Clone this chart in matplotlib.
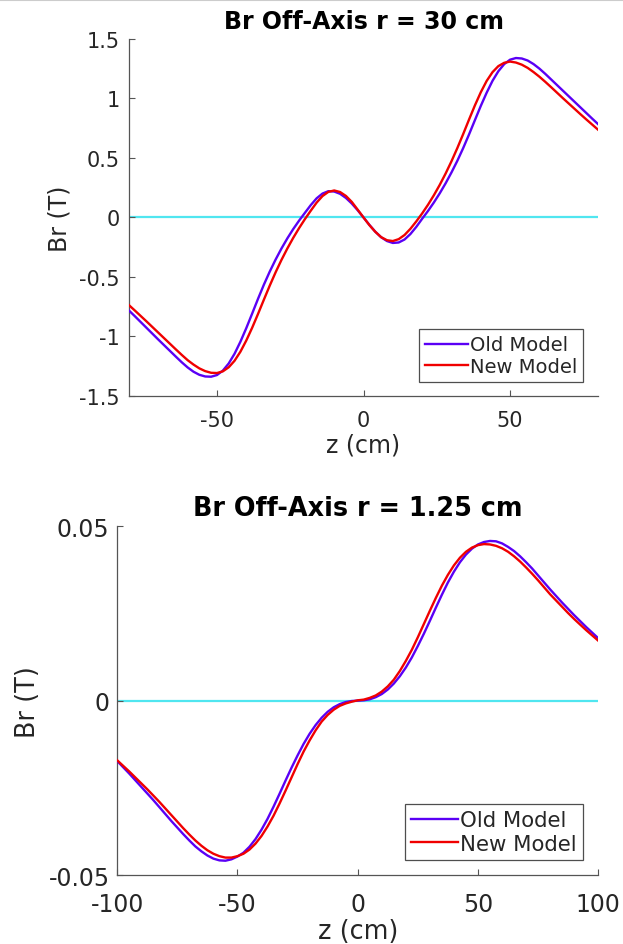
import matplotlib
matplotlib.use("Agg")
import matplotlib.pyplot as plt
from matplotlib.lines import Line2D

# Br off-axis, r = 30 cm  (z every 2 cm from -80 to 80)
z_30 = list(range(-80, 81, 2))
old_30 = [-0.782, -0.830, -0.879, -0.928, -0.977, -1.026, -1.074, -1.122, -1.170, -1.217,
          -1.260, -1.296, -1.322, -1.336, -1.338, -1.324, -1.287, -1.227, -1.145, -1.044,
          -0.930, -0.808, -0.684, -0.565, -0.455, -0.354, -0.261, -0.176, -0.098, -0.027,
          0.039, 0.104, 0.161, 0.201, 0.221, 0.218, 0.199, 0.164, 0.117, 0.061,
          0.0, -0.062, -0.119, -0.166, -0.198, -0.214, -0.210, -0.185, -0.139, -0.079,
          -0.011, 0.055, 0.126, 0.203, 0.287, 0.378, 0.476, 0.583, 0.698, 0.818,
          0.937, 1.048, 1.148, 1.229, 1.289, 1.326, 1.340, 1.336, 1.319, 1.289,
          1.251, 1.207, 1.160, 1.113, 1.066, 1.019, 0.972, 0.925, 0.878, 0.831, 0.785]
new_30 = [-0.737, -0.782, -0.828, -0.874, -0.921, -0.968, -1.015, -1.062, -1.109, -1.155,
          -1.199, -1.236, -1.268, -1.291, -1.305, -1.307, -1.293, -1.259, -1.204, -1.128,
          -1.034, -0.927, -0.811, -0.691, -0.573, -0.461, -0.357, -0.261, -0.172, -0.090,
          -0.014, 0.057, 0.125, 0.180, 0.215, 0.227, 0.214, 0.181, 0.131, 0.066,
          0.0, -0.064, -0.120, -0.165, -0.191, -0.198, -0.182, -0.147, -0.095, -0.033,
          0.034, 0.107, 0.187, 0.274, 0.369, 0.472, 0.583, 0.701, 0.823, 0.942,
          1.052, 1.147, 1.221, 1.272, 1.300, 1.310, 1.302, 1.284, 1.257, 1.222,
          1.183, 1.140, 1.095, 1.049, 1.003, 0.958, 0.913, 0.868, 0.824, 0.781, 0.738]

# Br off-axis, r = 1.25 cm  (z every 2.5 cm from -100 to 100)
z_125 = [-100 + 2.5 * i for i in range(81)]
old_125 = [-0.0173, -0.0191, -0.0209, -0.0228, -0.0247, -0.0266, -0.0285, -0.0305, -0.0325,
           -0.0345, -0.0364, -0.0383, -0.0401, -0.0418, -0.0432, -0.0444, -0.0453, -0.0458,
           -0.0459, -0.0455, -0.0447, -0.0436, -0.0419, -0.0397, -0.0370, -0.0339, -0.0304,
           -0.0267, -0.0229, -0.0192, -0.0157, -0.0124, -0.0095, -0.0070, -0.0049, -0.0032,
           -0.0019, -0.0010, -0.0004, -0.0001,
           0.0, 0.0001, 0.0004, 0.0010, 0.0019, 0.0032, 0.0049, 0.0070, 0.0095, 0.0124,
           0.0157, 0.0192, 0.0229, 0.0267, 0.0304, 0.0339, 0.0370, 0.0397, 0.0419, 0.0436,
           0.0448, 0.0455, 0.0458, 0.0457, 0.0451, 0.0441, 0.0429, 0.0414, 0.0397, 0.0379,
           0.0359, 0.0339, 0.0319, 0.0300, 0.0281, 0.0263, 0.0245, 0.0228, 0.0211, 0.0195,
           0.0179]
new_125 = [-0.0171, -0.0187, -0.0203, -0.0220, -0.0237, -0.0254, -0.0272, -0.0290, -0.0309,
           -0.0328, -0.0347, -0.0366, -0.0384, -0.0401, -0.0416, -0.0429, -0.0439, -0.0446,
           -0.0450, -0.0450, -0.0446, -0.0439, -0.0427, -0.0410, -0.0388, -0.0361, -0.0330,
           -0.0295, -0.0258, -0.0220, -0.0182, -0.0146, -0.0114, -0.0085, -0.0060, -0.0041,
           -0.0026, -0.0015, -0.0008, -0.0003,
           0.0001, 0.0003, 0.0008, 0.0015, 0.0026, 0.0041, 0.0060, 0.0085, 0.0114, 0.0146,
           0.0182, 0.0220, 0.0258, 0.0295, 0.0330, 0.0361, 0.0388, 0.0410, 0.0427, 0.0439,
           0.0446, 0.0449, 0.0448, 0.0444, 0.0437, 0.0427, 0.0414, 0.0399, 0.0382, 0.0364,
           0.0345, 0.0325, 0.0305, 0.0287, 0.0269, 0.0251, 0.0234, 0.0218, 0.0202, 0.0187,
           0.0172]

labels = ["Old Model", "New Model"]

OLD_C = "#5a00f5"
NEW_C = "#f00000"
ZERO_C = "#50e6f0"
AX_C = "#555555"
TXT_C = "#262626"


def setup_axes(ax, xticks, yticks, ylabels, fs, xpad, ypad):
    for side in ("top", "right"):
        ax.spines[side].set_visible(False)
    for side in ("left", "bottom"):
        ax.spines[side].set_color(AX_C)
        ax.spines[side].set_linewidth(0.9)
    ax.tick_params(direction="in", length=4, width=0.8, color=AX_C,
                   labelcolor=TXT_C, labelsize=fs)
    ax.tick_params(axis="x", pad=xpad)
    ax.tick_params(axis="y", pad=ypad)
    ax.set_xticks(xticks)
    ax.set_xticklabels([str(t) for t in xticks])
    ax.set_yticks(yticks)
    ax.set_yticklabels(ylabels)


def panel(ax, z, old, new, title, xlim, ylim, xticks, yticks, ylabels,
          fs, lfs, legfs, xpad, ypad, ylpad, leg_anchor):
    ax.axhline(0, color=ZERO_C, lw=1.6, zorder=1)
    ax.plot(z, old, color=OLD_C, lw=1.7, label=labels[0], zorder=3)
    ax.plot(z, new, color=NEW_C, lw=1.7, label=labels[1], zorder=4)
    ax.set_xlim(xlim)
    ax.set_ylim(ylim)
    setup_axes(ax, xticks, yticks, ylabels, fs, xpad, ypad)
    ax.set_title(title, fontsize=lfs, fontweight="bold", color="black", pad=8)
    ax.set_xlabel("z (cm)", fontsize=lfs, color=TXT_C, labelpad=2)
    ax.set_ylabel("Br (T)", fontsize=lfs, color=TXT_C, labelpad=ylpad)
    leg = ax.legend(loc="lower right", bbox_to_anchor=leg_anchor, borderaxespad=0,
                    fontsize=legfs, frameon=True, fancybox=False,
                    handlelength=2.2, handletextpad=0.1, borderpad=0.3,
                    labelspacing=0.15)
    leg.get_frame().set_edgecolor("#222222")
    leg.get_frame().set_linewidth(0.9)
    for t in leg.get_texts():
        t.set_color(TXT_C)


fig = plt.figure(figsize=(6.23, 9.45), dpi=100)
plt.rcParams["font.family"] = ["DejaVu Sans"]

ax1 = fig.add_axes([0.2071, 0.5799, 0.7528, 0.3778])
panel(ax1, z_30, old_30, new_30, "Br Off-Axis r = 30 cm", (-80, 80), (-1.5, 1.5),
      [-50, 0, 50], [-1.5, -1, -0.5, 0, 0.5, 1, 1.5],
      ["-1.5", "-1", "-0.5", "0", "0.5", "1", "1.5"],
      15, 17, 14, 10, 6.5, 6, (0.968, 0.039))

ax2 = fig.add_axes([0.1881, 0.0730, 0.7722, 0.369])
panel(ax2, z_125, old_125, new_125, "Br Off-Axis r = 1.25 cm", (-100, 100), (-0.05, 0.05),
      [-100, -50, 0, 50, 100], [-0.05, 0, 0.05], ["-0.05", "0", "0.05"],
      17, 18.4, 15.3, 12, 5.5, 5, (0.968, 0.043))

# thin grey rule along the top edge
fig.add_artist(Line2D([0, 1], [0.999, 0.999], transform=fig.transFigure,
                      color="#cccccc", lw=1.5))

fig.savefig("out.png", dpi=100)
